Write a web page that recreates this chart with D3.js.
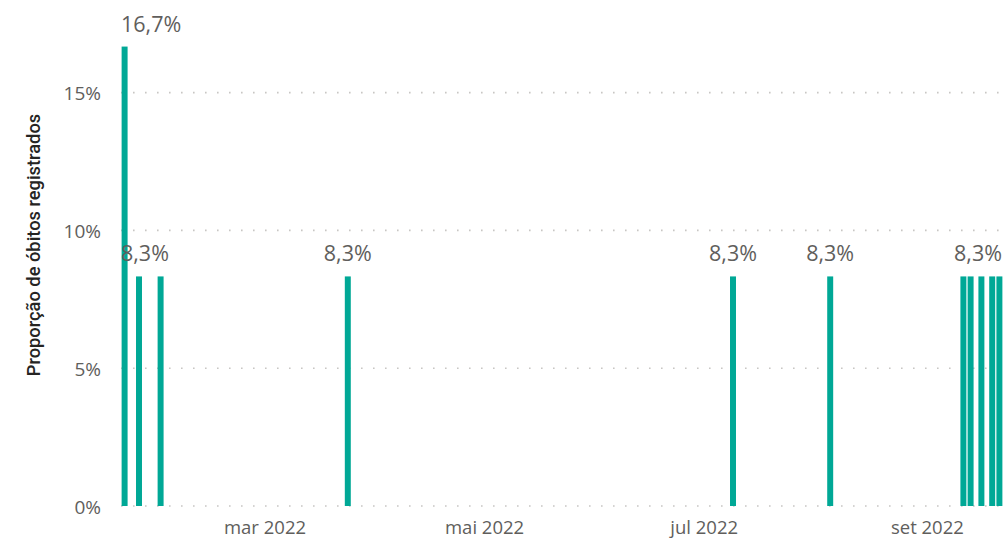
<!DOCTYPE html>
<html>
<head>
<meta charset="utf-8">
<script src="https://cdn.jsdelivr.net/npm/d3@7"></script>
<style>
  html, body { margin: 0; padding: 0; background: #fff; }
  svg { display: block; }
</style>
</head>
<body>
<svg id="chart" width="1003" height="538"></svg>
<script>
// ---- data ----
const dates = ["2022-01-21","2022-01-25","2022-01-31","2022-03-24","2022-07-09","2022-08-05",
               "2022-09-11","2022-09-13","2022-09-16","2022-09-19","2022-09-21"];
const values = [0.1667, 0.0833, 0.0833, 0.0833, 0.0833, 0.0833, 0.0833, 0.0833, 0.0833, 0.0833, 0.0833];
const labelShown = [true, true, false, true, true, true, false, false, false, false, true];
const yTicks = [0, 0.05, 0.10, 0.15];
const yTickLabels = ["0%", "5%", "10%", "15%"];
const xTickLabels = ["mar 2022", "mai 2022", "jul 2022", "set 2022"];
const yTitle = "Proporção de óbitos registrados";

// ---- layout ----
const svg = d3.select("#chart");
const plotL = 121, plotR = 1003, plotB = 506;
const parse = d3.utcParse("%Y-%m-%d");
const x = d3.scaleUtc()
  .domain([parse("2022-01-20"), parse("2022-09-22")])
  .range([plotL, plotR]);
const y = d3.scaleLinear().domain([0, 0.17]).range([plotB, plotB - 0.17 * 2756]);

const fmt = v => (v * 100).toFixed(1).replace(".", ",") + "%";

// gridlines
svg.append("g").selectAll("line").data(yTicks).join("line")
  .attr("x1", plotL).attr("x2", plotR)
  .attr("y1", d => y(d)).attr("y2", d => y(d))
  .attr("stroke", "#c8c6c4").attr("stroke-width", 1.6)
  .attr("stroke-dasharray", "1.6,10.4");

// y tick labels
svg.append("g").selectAll("text").data(yTicks).join("text")
  .attr("x", 101).attr("y", d => y(d) + 1)
  .attr("dy", "0.35em")
  .attr("text-anchor", "end")
  .attr("font-family", "'Open Sans', sans-serif")
  .attr("font-size", 19)
  .attr("fill", "#605e5c")
  .text((d, i) => yTickLabels[i]);

// x axis (month ticks every 2 months)
const xTicks = x.ticks(d3.utcMonth.every(2)).filter(d => d > x.domain()[0]);
svg.append("g").selectAll("text").data(xTicks).join("text")
  .attr("x", d => x(d)).attr("y", 534)
  .attr("text-anchor", "middle")
  .attr("font-family", "'Open Sans', sans-serif")
  .attr("font-size", 18.5)
  .attr("fill", "#605e5c")
  .text((d, i) => xTickLabels[i]);

// y axis title
svg.append("text")
  .attr("transform", "translate(40,245) rotate(-90)")
  .attr("text-anchor", "middle")
  .attr("font-family", "Roboto, sans-serif")
  .attr("font-weight", 500)
  .attr("font-size", 18.3)
  .attr("fill", "#252423")
  .text(yTitle);

// bars
const data = dates.map((d, i) => ({ date: parse(d), value: values[i], show: labelShown[i] }));
const day0 = parse("2022-01-20");
const barW = (x(d3.utcDay.offset(day0, 2)) - x(day0)) * 0.83;
svg.append("g").selectAll("rect").data(data).join("rect")
  .attr("x", d => x(d.date) - barW / 2)
  .attr("y", d => y(d.value))
  .attr("width", barW)
  .attr("height", d => y(0) - y(d.value))
  .attr("fill", "#00a896");

// data labels
const lbl = svg.append("g").selectAll("text").data(data.filter(d => d.show)).join("text")
  .attr("y", d => y(d.value) - 15)
  .attr("text-anchor", "middle")
  .attr("font-family", "'Open Sans', sans-serif")
  .attr("font-size", 21.5)
  .attr("fill", "#605e5c")
  .text(d => fmt(d.value));
lbl.each(function(d) {
  const w = this.getComputedTextLength();
  const cx = Math.max(plotL + w / 2, Math.min(plotR - w / 2 - 1, x(d.date)));
  d3.select(this).attr("x", cx);
});
</script>
</body>
</html>
